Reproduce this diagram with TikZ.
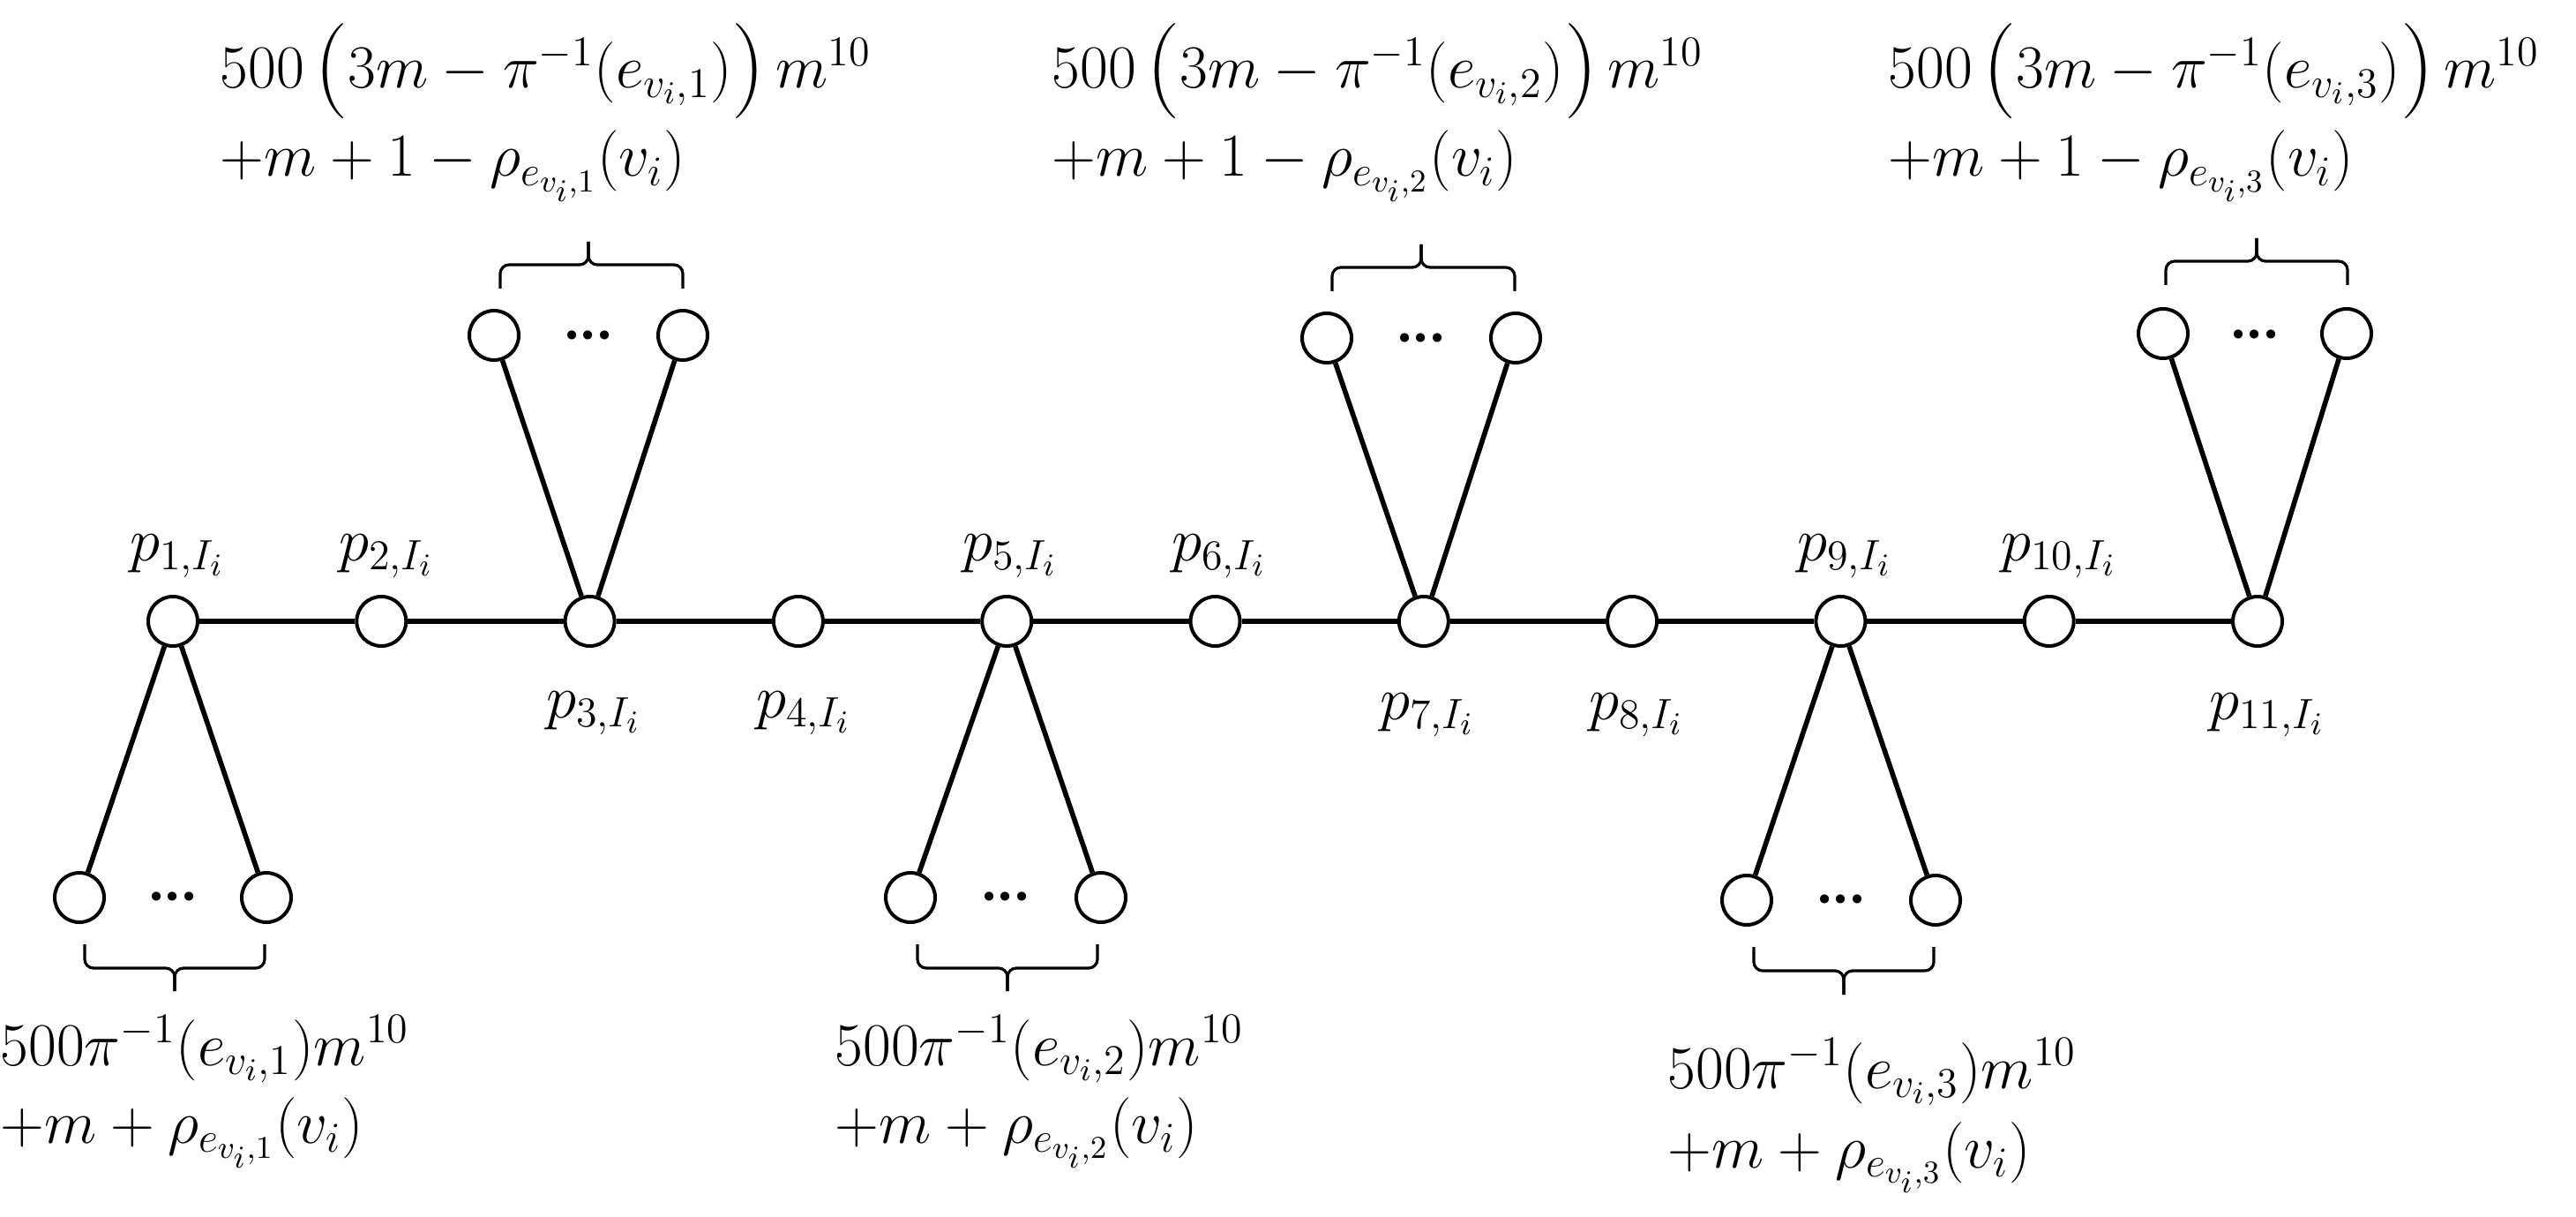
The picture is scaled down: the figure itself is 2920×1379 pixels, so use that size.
\documentclass[tikz,border=0pt]{standalone}
\usepackage{amsmath}
\usepackage{graphicx}
\usepackage{fontspec}
\newfontfamily\dotfont{Carlito}
\newcommand{\mylparen}{\mathopen{\raisebox{-2pt}{\fontsize{27}{27}\selectfont(}}}
\newcommand{\myrparen}{\mathclose{\raisebox{-2pt}{\fontsize{27}{27}\selectfont)}}}
\begin{document}
\begin{tikzpicture}[x=0.25pt,y=-0.25pt,
  vtx/.style={circle,draw,line width=1pt,minimum size=14pt,inner sep=0pt,fill=white},
  edge/.style={line width=1.4pt},
  brc/.style={line width=0.8pt,rounded corners=2.5pt},
  lbl/.style={inner sep=0pt,font=\fontsize{17.5}{20}\selectfont},
  frm/.style={inner sep=0pt,anchor=base west,font=\fontsize{17.5}{21}\selectfont},
  dts/.style={inner sep=0pt,anchor=base,font=\dotfont\bfseries\fontsize{17}{20}\selectfont}]
\useasboundingbox (0,0) rectangle (2920,1379);

% main path vertices
\foreach \k in {1,...,11}
  \node[vtx] (p\k) at ({196+(\k-1)*236.3},704) {};

% leaves (top)
\node[vtx] (t3l) at (560,380) {};
\node[vtx] (t3r) at (774,380) {};
\node[vtx] (t7l) at (1504,383) {};
\node[vtx] (t7r) at (1718,383) {};
\node[vtx] (t11l) at (2452,378) {};
\node[vtx] (t11r) at (2660,378) {};
% leaves (bottom)
\node[vtx] (b1l) at (90,1017) {};
\node[vtx] (b1r) at (302,1017) {};
\node[vtx] (b5l) at (1032,1017) {};
\node[vtx] (b5r) at (1248,1017) {};
\node[vtx] (b9l) at (1980,1020) {};
\node[vtx] (b9r) at (2194,1020) {};

% edges
\draw[edge] (p1)--(p2)--(p3)--(p4)--(p5)--(p6)--(p7)--(p8)--(p9)--(p10)--(p11);
\draw[edge] (p3)--(t3l) (p3)--(t3r);
\draw[edge] (p7)--(t7l) (p7)--(t7r);
\draw[edge] (p11)--(t11l) (p11)--(t11r);
\draw[edge] (p1)--(b1l) (p1)--(b1r);
\draw[edge] (p5)--(b5l) (p5)--(b5r);
\draw[edge] (p9)--(b9l) (p9)--(b9r);

% dots
\node[dts] (d3) at (667,385) {...};
\node[dts] (d7) at (1611,388) {...};
\node[dts] (d11) at (2556,383) {...};
\node[dts] (d1) at (196,1020) {...};
\node[dts] (d5) at (1140,1020) {...};
\node[dts] (d9) at (2087,1023) {...};

% braces (top)
\draw[brc] (567,327)--(567,300)--(667,300)--(667,274);
\draw[brc] (774,327)--(774,300)--(667,300)--(667,274);
\draw[brc] (1510,330)--(1510,303)--(1611,303)--(1611,277);
\draw[brc] (1717,330)--(1717,303)--(1611,303)--(1611,277);
\draw[brc] (2455,323)--(2455,296)--(2558,296)--(2558,270);
\draw[brc] (2661,323)--(2661,296)--(2558,296)--(2558,270);
% braces (bottom)
\draw[brc] (96,1070)--(96,1097)--(198,1097)--(198,1123);
\draw[brc] (300,1070)--(300,1097)--(198,1097)--(198,1123);
\draw[brc] (1040,1070)--(1040,1097)--(1142,1097)--(1142,1123);
\draw[brc] (1244,1070)--(1244,1097)--(1142,1097)--(1142,1123);
\draw[brc] (1988,1073)--(1988,1100)--(2090,1100)--(2090,1127);
\draw[brc] (2192,1073)--(2192,1100)--(2090,1100)--(2090,1127);

% vertex labels
\node[lbl] (l1) at (201,630) {$p_{1,I_i}$};
\node[lbl] (l2) at (438,630) {$p_{2,I_i}$};
\node[lbl] (l3) at (673,808) {$p_{3,I_i}$};
\node[lbl] (l4) at (911,808) {$p_{4,I_i}$};
\node[lbl] (l5) at (1145,630) {$p_{5,I_i}$};
\node[lbl] (l6) at (1382,630) {$p_{6,I_i}$};
\node[lbl] (l7) at (1618,810) {$p_{7,I_i}$};
\node[lbl] (l8) at (1855,810) {$p_{8,I_i}$};
\node[lbl] (l9) at (2091,630) {$p_{9,I_i}$};
\node[lbl] (l10) at (2334,630) {$p_{10,I_i}$};
\node[lbl] (l11) at (2570,810) {$p_{11,I_i}$};

% weight formulas (top)
\node[frm] (f3a) at (249,100) {$500\,\mylparen 3m-\pi^{-1}(e_{v_i,1})\myrparen\,m^{10}$};
\node[frm] (f3b) at (249,200) {$+m+1-\rho_{e_{v_i,1}}(v_i)$};
\node[frm] (f7a) at (1192,100) {$500\,\mylparen 3m-\pi^{-1}(e_{v_i,2})\myrparen\,m^{10}$};
\node[frm] (f7b) at (1192,200) {$+m+1-\rho_{e_{v_i,2}}(v_i)$};
\node[frm] (f11a) at (2140,100) {$500\,\mylparen 3m-\pi^{-1}(e_{v_i,3})\myrparen\,m^{10}$};
\node[frm] (f11b) at (2140,200) {$+m+1-\rho_{e_{v_i,3}}(v_i)$};
% weight formulas (bottom)
\node[frm] (f1a) at (0,1207) {$500\pi^{-1}(e_{v_i,1})m^{10}$};
\node[frm] (f1b) at (0,1295) {$+m+\rho_{e_{v_i,1}}(v_i)$};
\node[frm] (f5a) at (946,1207) {$500\pi^{-1}(e_{v_i,2})m^{10}$};
\node[frm] (f5b) at (946,1295) {$+m+\rho_{e_{v_i,2}}(v_i)$};
\node[frm] (f9a) at (1890,1233) {$500\pi^{-1}(e_{v_i,3})m^{10}$};
\node[frm] (f9b) at (1890,1323) {$+m+\rho_{e_{v_i,3}}(v_i)$};
\end{tikzpicture}
\end{document}
